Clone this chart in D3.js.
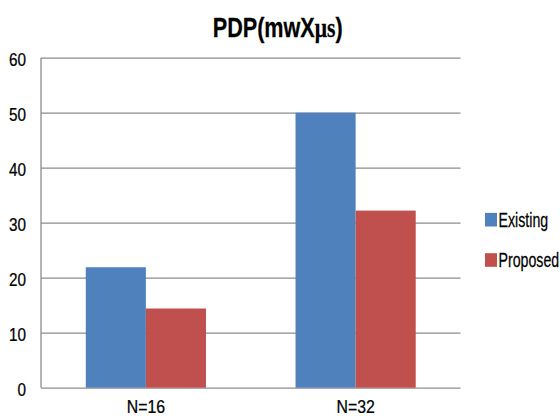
<!DOCTYPE html>
<html>
<head>
<meta charset="utf-8">
<script src="https://cdn.jsdelivr.net/npm/d3@7"></script>
<style>
  body { margin: 0; background: #fff; }
  text { font-family: "Liberation Sans", Arial, sans-serif; fill: #000; }
</style>
</head>
<body>
<svg id="chart" width="560" height="416"></svg>
<script>
var categories = ["N=16", "N=32"];
var seriesNames = ["Existing", "Proposed"];
var existing = [21.9, 50];
var proposed = [14.4, 32.2];
var yTicks = [0, 10, 20, 30, 40, 50, 60];

var colors = ["#4f81bd", "#c0504d"];
var values = [existing, proposed];

var svg = d3.select("#chart");
var plotLeft = 41, plotRight = 460.5, plotTop = 57.7, plotBottom = 387.7;

var y = d3.scaleLinear()
    .domain([0, 60])
    .range([plotBottom, plotTop]);

var x0 = d3.scaleBand()
    .domain(categories)
    .range([plotLeft, plotRight])
    .paddingInner(0.427)
    .paddingOuter(0.2135);

var x1 = d3.scaleBand()
    .domain(seriesNames)
    .range([0, x0.bandwidth()]);

// condensed text helper (Calibri-like look)
function narrow(parent, x, yPos, str, size, sx, anchor) {
    return parent.append("g")
        .attr("transform", "translate(" + x + "," + yPos + ") scale(" + sx + ",1)")
        .append("text")
        .attr("font-size", size)
        .attr("text-anchor", anchor)
        .attr("stroke", "#000")
        .attr("stroke-width", 0.25)
        .text(str);
}

// gridlines + y labels
var yAxis = d3.axisLeft(y)
    .tickValues(yTicks)
    .tickSize(-(plotRight - plotLeft))
    .tickFormat(d3.format("d"));

var gy = svg.append("g")
    .attr("transform", "translate(" + plotLeft + ",0)")
    .call(yAxis);
gy.select(".domain").remove();
gy.selectAll("line").attr("stroke", "#8c8c8c").attr("stroke-width", 1.3);
gy.selectAll("text")
    .attr("x", 0)
    .attr("dy", null)
    .attr("font-size", 18)
    .attr("fill", "#000")
    .attr("stroke", "#000")
    .attr("stroke-width", 0.25)
    .attr("transform", "translate(-15,7.5) scale(0.85,1)");

// left axis line
svg.append("line")
    .attr("x1", plotLeft).attr("x2", plotLeft)
    .attr("y1", plotTop).attr("y2", plotBottom)
    .attr("stroke", "#8c8c8c").attr("stroke-width", 1.3);

// bars
categories.forEach(function(c, i) {
    seriesNames.forEach(function(s, j) {
        svg.append("rect")
            .attr("x", x0(c) + x1(s))
            .attr("y", y(values[j][i]))
            .attr("width", x1.bandwidth())
            .attr("height", y(0) - y(values[j][i]))
            .attr("fill", colors[j]);
    });
});

// x labels
categories.forEach(function(c) {
    narrow(svg, x0(c) + x0.bandwidth() / 2, 412.5, c, 18, 0.88, "middle");
});

// title
var title = narrow(svg, 277.7, 36.7, "", 27, 0.8, "middle")
    .attr("font-weight", "bold");
title.append("tspan").text("PDP(mwX");
title.append("tspan").attr("font-family", "Liberation Serif, serif").text("μs");
title.append("tspan").text(")");

// legend
seriesNames.forEach(function(s, i) {
    var cy = i === 0 ? 219.7 : 260;
    svg.append("rect")
        .attr("x", 485).attr("y", cy - 6.8)
        .attr("width", 12).attr("height", 13.6)
        .attr("fill", colors[i]);
    narrow(svg, 498.5, cy + 7.2, s, 20, 0.71, "start");
});
</script>
</body>
</html>
